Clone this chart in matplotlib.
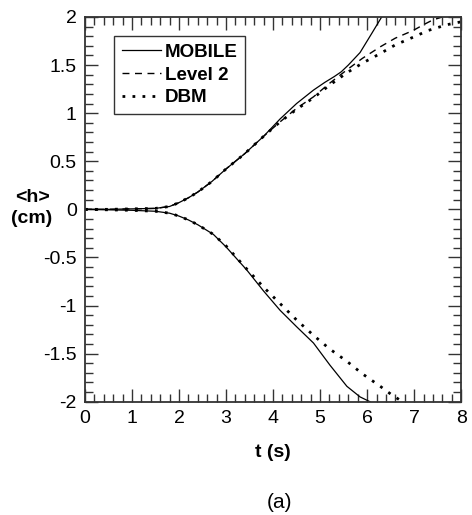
import matplotlib.pyplot as plt
from matplotlib.ticker import MultipleLocator

plt.rcParams['font.family'] = ['Liberation Sans', 'DejaVu Sans']

# Mean interface height <h> vs time, upper and lower branches
t_mob_up = [0, 0.5, 1.0, 1.5, 1.8, 2.0, 2.2, 2.4, 2.7, 3.0, 3.4, 3.8, 4.15, 4.5,
            4.86, 5.1, 5.3, 5.45, 5.6, 5.85, 6.1, 6.31]
h_mob_up = [0, 0, 0.005, 0.01, 0.03, 0.07, 0.12, 0.18, 0.29, 0.42, 0.58, 0.76, 0.94,
            1.10, 1.24, 1.32, 1.38, 1.43, 1.50, 1.63, 1.83, 2.0]

t_lv2_up = [0, 0.5, 1.0, 1.5, 1.8, 2.0, 2.2, 2.4, 2.7, 3.0, 3.4, 3.8, 4.15, 4.5,
            4.86, 5.2, 5.57, 5.9, 6.28, 6.6, 6.98, 7.2, 7.4, 7.6]
h_lv2_up = [0, 0, 0.005, 0.01, 0.03, 0.07, 0.12, 0.18, 0.29, 0.42, 0.58, 0.76, 0.91,
            1.05, 1.17, 1.31, 1.45, 1.57, 1.69, 1.78, 1.86, 1.92, 1.97, 2.0]

t_dbm_up = [0, 0.5, 1.0, 1.5, 1.8, 2.0, 2.2, 2.4, 2.7, 3.0, 3.4, 3.8, 4.15, 4.5,
            4.86, 5.2, 5.57, 5.9, 6.28, 6.6, 6.98, 7.3, 7.7, 8.0]
h_dbm_up = [0, 0, 0.005, 0.01, 0.03, 0.07, 0.12, 0.18, 0.29, 0.42, 0.58, 0.76, 0.91,
            1.04, 1.16, 1.29, 1.42, 1.52, 1.62, 1.71, 1.79, 1.86, 1.92, 1.95]

t_mob_lo = [0, 0.5, 1.0, 1.5, 1.8, 2.0, 2.2, 2.4, 2.73, 3.0, 3.44, 3.8, 4.15, 4.5,
            4.86, 5.21, 5.57, 5.85, 6.06]
h_mob_lo = [0, -0.005, -0.01, -0.02, -0.04, -0.07, -0.11, -0.16, -0.26, -0.39, -0.63,
            -0.85, -1.05, -1.22, -1.39, -1.62, -1.84, -1.95, -2.0]

t_dbm_lo = [0, 0.5, 1.0, 1.5, 1.8, 2.0, 2.2, 2.4, 2.73, 3.0, 3.44, 3.8, 4.15, 4.5,
            4.86, 5.2, 5.57, 5.9, 6.28, 6.5, 6.75]
h_dbm_lo = [0, -0.005, -0.01, -0.02, -0.04, -0.07, -0.11, -0.16, -0.26, -0.38, -0.62,
            -0.81, -0.98, -1.15, -1.31, -1.45, -1.58, -1.71, -1.84, -1.92, -2.0]

x_ticks = [0, 1, 2, 3, 4, 5, 6, 7, 8]
y_ticks = [-2, -1.5, -1, -0.5, 0, 0.5, 1, 1.5, 2]
y_tick_labels = ['-2', '-1.5', '-1', '-0.5', '0', '0.5', '1', '1.5', '2']

fig = plt.figure(figsize=(4.72, 5.15), dpi=100)
ax = fig.add_axes([0.180, 0.220, 0.797, 0.747])

ax.plot(t_mob_up, h_mob_up, color='black', lw=0.9, label='MOBILE')
ax.plot(t_lv2_up, h_lv2_up, color='black', lw=1.0, ls=(0, (5, 4)), label='Level 2')
ax.plot(t_dbm_up, h_dbm_up, color='black', lw=2.0, ls=(0, (1, 2.6)), label='DBM')
ax.plot(t_mob_lo, h_mob_lo, color='black', lw=0.9)
ax.plot(t_dbm_lo, h_dbm_lo, color='black', lw=2.0, ls=(0, (1, 2.6)))

ax.set_xlim(0, 8)
ax.set_ylim(-2, 2)
ax.set_xticks(x_ticks)
ax.set_xticklabels([str(v) for v in x_ticks])
ax.set_yticks(y_ticks)
ax.set_yticklabels(y_tick_labels)
ax.xaxis.set_minor_locator(MultipleLocator(0.2))
ax.yaxis.set_minor_locator(MultipleLocator(0.1))
ax.tick_params(which='both', direction='in', top=True, right=True,
               color='#333333', labelsize=14)
ax.tick_params(which='major', length=9.5, width=1.0, pad=6)
ax.tick_params(which='minor', length=5.5, width=1.0)
for s in ax.spines.values():
    s.set_linewidth(1.3)
    s.set_color('#333333')

ax.set_xlabel('t (s)', fontsize=14, fontweight='bold', labelpad=12)
fig.text(0.068, 0.596, '<h>\n(cm)', fontsize=14, fontweight='bold',
         ha='center', va='center', linespacing=1.25)
fig.text(0.593, 0.025, '(a)', fontsize=15, ha='center', va='center')

leg = ax.legend(loc='upper left', bbox_to_anchor=(0.078, 0.95), fancybox=False,
                edgecolor='#333333', framealpha=1, handlelength=2.1,
                handletextpad=0.2, borderpad=0.4, labelspacing=0.3,
                borderaxespad=0.0,
                prop={'weight': 'bold', 'size': 13.5})
leg.get_frame().set_linewidth(1.0)

fig.savefig('out.png', dpi=100)
